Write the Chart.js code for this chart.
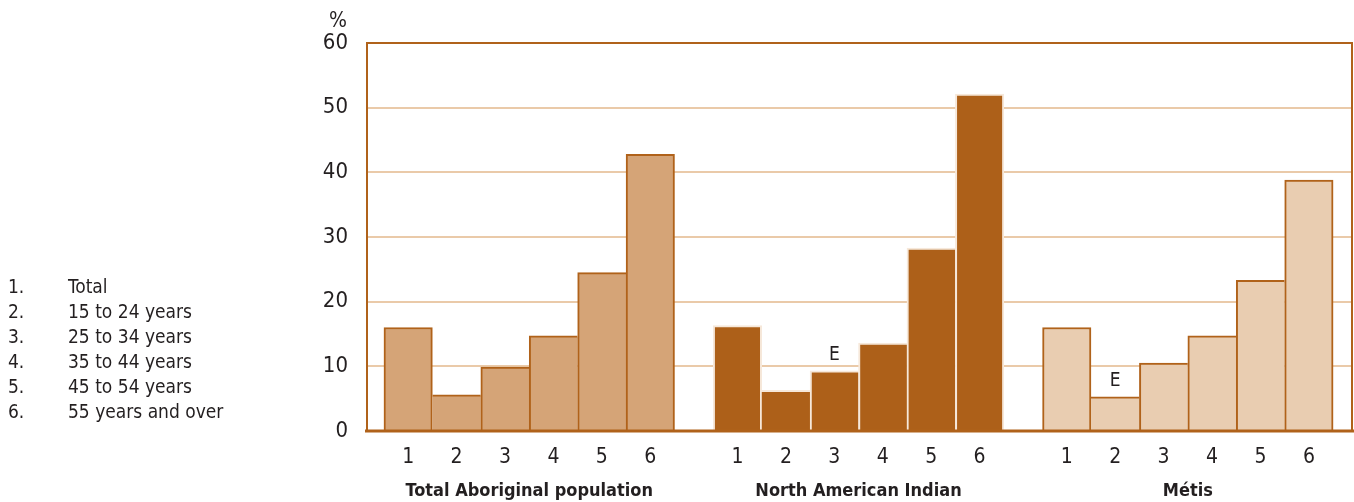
<!DOCTYPE html>
<html>
<head>
<meta charset="utf-8">
<script src="https://cdn.jsdelivr.net/npm/chart.js@4.4.1/dist/chart.umd.min.js"></script>
<style>
  body { margin:0; background:#fff; }
  #wrap { position:relative; width:1354px; height:502px; }
  #legend { position:absolute; left:8px; top:274px; font:19px 'Liberation Sans Narrow','DejaVu Sans Condensed',sans-serif; color:#231f20; line-height:25px; }
  #legend div span { display:inline-block; width:60px; }
</style>
</head>
<body>
<div id="wrap">
  <canvas id="chart" width="1354" height="502"></canvas>
  <div id="legend"></div>
</div>
<script>
// ── DATA ─────────────────────────────────────────────────────────
const ageCodes   = ['1','2','3','4','5','6'];
const ageLabels  = ['Total','15 to 24 years','25 to 34 years','35 to 44 years','45 to 54 years','55 years and over'];
const groupNames = ['Total Aboriginal population','North American Indian','Métis'];
const totalAbo   = [16.0, 5.6, 9.9, 14.7, 24.5, 42.8];
const northAmInd = [16.3, 6.3, 9.3, 13.6, 28.3, 52.1];
const metis      = [16.0, 5.3, 10.5, 14.7, 23.3, 38.8];
const naiFlags   = ['', '', 'E', '', '', ''];
const metisFlags = ['', 'E', '', '', '', ''];
const yTicks     = [0, 10, 20, 30, 40, 50, 60];

// ── LAYOUT ───────────────────────────────────────────────────────
const FONT  = "'Liberation Sans Narrow','DejaVu Sans Condensed',sans-serif";
const BROWN = '#b0621a', GRID = '#eacaa9', TEXT = '#231f20';
const GROUP_STEP = 6.8;   // bar slots from one group start to the next
const xOf = (g, i) => i + 1 + g * GROUP_STEP;
const tickPos = [];
[0,1,2].forEach(g => ageCodes.forEach((_, i) => tickPos.push(xOf(g, i))));

document.getElementById('legend').innerHTML = ageLabels
  .map((l, i) => `<div><span>${ageCodes[i]}.</span>${l}</div>`).join('');

// a shared edge between neighbours is drawn once, by the taller bar
const edges = w => c => {
  const d = c.dataset.data, i = c.dataIndex, y = d[i].y;
  const prev = d[i - 1], next = d[i + 1];
  return { top: w, bottom: 0,
           left:  (!prev || prev.y <= y) ? w : 0,
           right: (!next || next.y <  y) ? w : 0 };
};
const series = [
  { data: totalAbo,   flags: null,       bg: '#d5a477', border: BROWN     },
  { data: northAmInd, flags: naiFlags,   bg: '#ad6019', border: '#f6e8da' },
  { data: metis,      flags: metisFlags, bg: '#e9cdb1', border: BROWN     }
];

const framePlugin = {
  id: 'frame',
  afterDatasetsDraw(chart) {
    const { ctx, chartArea: a } = chart;
    ctx.save();
    ctx.strokeStyle = BROWN;
    ctx.lineWidth = 2;
    ctx.beginPath();
    ctx.moveTo(a.left, a.bottom); ctx.lineTo(a.left, a.top);
    ctx.lineTo(a.right, a.top); ctx.lineTo(a.right, a.bottom);
    ctx.stroke();
    ctx.lineWidth = 3;
    ctx.beginPath();
    ctx.moveTo(a.left - 2, a.bottom); ctx.lineTo(a.right + 2, a.bottom);
    ctx.stroke();

    // "E" quality flags above bars
    ctx.fillStyle = TEXT;
    ctx.font = '19px ' + FONT;
    ctx.textAlign = 'center';
    ctx.textBaseline = 'bottom';
    series.forEach((s, d) => {
      if (!s.flags) return;
      const meta = chart.getDatasetMeta(d);
      s.flags.forEach((f, i) => { if (f) ctx.fillText(f, meta.data[i].x, meta.data[i].y - 6); });
    });

    // group names + % unit
    const xs = chart.scales.x;
    ctx.font = 'bold 18px ' + FONT;
    ctx.textBaseline = 'middle';
    groupNames.forEach((n, g) => ctx.fillText(n, xs.getPixelForValue(xOf(g, 2.5)), 491));
    ctx.font = '21px ' + FONT;
    ctx.fillText('%', 338, 22);
    ctx.restore();
  }
};

new Chart(document.getElementById('chart'), {
  type: 'bar',
  data: {
    datasets: series.map((s, g) => ({
      data: s.data.map((v, i) => ({ x: xOf(g, i), y: v })),
      backgroundColor: s.bg, borderColor: s.border, borderWidth: edges(2),
      borderSkipped: false,
      barPercentage: 1, categoryPercentage: 1, grouped: false
    }))
  },
  options: {
    responsive: false, animation: false, devicePixelRatio: 1,
    layout: { padding: { left: 0, top: 43, right: 2, bottom: 0 } },
    plugins: { legend: { display: false }, tooltip: { enabled: false } },
    scales: {
      x: {
        type: 'linear', min: 0.15, max: 20.49, offset: false,
        afterBuildTicks: sc => { sc.ticks = tickPos.map(v => ({ value: v })); },
        afterFit: sc => { sc.height = 71; },
        ticks: { autoSkip: false, maxRotation: 0, padding: 6, color: TEXT,
                 font: { family: FONT, size: 21 },
                 callback: (v, i) => ageCodes[i % ageCodes.length] },
        grid: { display: false, offset: false }, border: { display: false }
      },
      y: {
        min: 0, max: 60,
        afterBuildTicks: sc => { sc.ticks = yTicks.map(v => ({ value: v })); },
        afterFit: sc => { sc.width = 367; },
        ticks: { padding: 19, color: TEXT, font: { family: FONT, size: 22 } },
        grid: { drawTicks: false, lineWidth: 2,
                color: c => (c.tick.value === 0 || c.tick.value === 60) ? 'rgba(0,0,0,0)' : GRID },
        border: { display: false }
      }
    }
  },
  plugins: [framePlugin]
});
</script>
</body>
</html>
